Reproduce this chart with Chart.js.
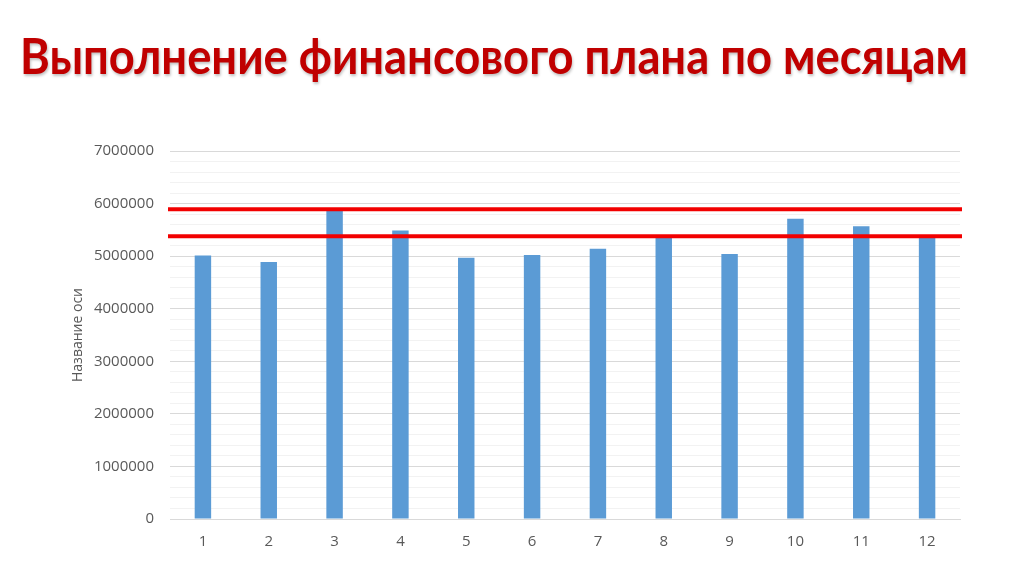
<!DOCTYPE html>
<html lang="ru">
<head>
<meta charset="utf-8">
<title>Выполнение финансового плана по месяцам</title>
<script src="https://cdn.jsdelivr.net/npm/chart.js@4.4.1/dist/chart.umd.min.js"></script>
<style>
  html, body { margin: 0; padding: 0; background: #fff; }
  #wrap { position: relative; width: 1024px; height: 574px; overflow: hidden; }
  #title {
    position: absolute; left: 20px; top: 30px;
    font-family: Lato, "Open Sans", sans-serif; font-weight: bold;
    font-size: 50px; line-height: 1; color: #C00000; white-space: nowrap;
    text-shadow: 1px 2px 3px rgba(0,0,0,0.25);
    transform-origin: left top;
  }
  #chart { position: absolute; left: 0; top: 0; }
</style>
</head>
<body>
<div id="wrap">
  <canvas id="chart" width="1024" height="574"></canvas>
  <div id="title">Выполнение финансового плана по месяцам</div>
</div>
<script>
const months = ['1', '2', '3', '4', '5', '6', '7', '8', '9', '10', '11', '12'];
const planValues = [5010000, 4890000, 5870000, 5490000, 4970000, 5020000, 5140000, 5390000, 5040000, 5710000, 5570000, 5380000];
const limitLines = [5890000, 5380000];
const yTicks = { min: 0, max: 7000000, major: 1000000, minor: 200000 };
const axisTitle = 'Название оси';

// fit the title to the width it has on the slide
const titleEl = document.getElementById('title');
const titleWidth = titleEl.getBoundingClientRect().width;
titleEl.style.transform = 'scaleX(' + (948 / titleWidth) + ')';

// red horizontal limit lines, placed through the y scale
const limitLinesPlugin = {
    id: 'limitLines',
    afterDatasetsDraw(chart) {
        const ctx = chart.ctx;
        const area = chart.chartArea;
        const y = chart.scales.y;
        ctx.save();
        ctx.strokeStyle = '#F20000';
        ctx.lineWidth = 4;
        limitLines.forEach(value => {
            const py = y.getPixelForValue(value);
            ctx.beginPath();
            ctx.moveTo(area.left - 2, py);
            ctx.lineTo(area.right + 2, py);
            ctx.stroke();
        });
        ctx.restore();
    }
};

const tickFont = { family: '"Open Sans", sans-serif', size: 15 };

const ctx = document.getElementById('chart').getContext('2d');
const myChart = new Chart(ctx, {
    type: 'bar',
    data: {
        labels: months,
        datasets: [{
            data: planValues,
            backgroundColor: '#5B9BD5',
            barPercentage: 0.5,
            categoryPercentage: 0.5
        }]
    },
    options: {
        responsive: false,
        animation: false,
        layout: { padding: { top: 151, left: 70, right: 64, bottom: 17 } },
        plugins: {
            legend: { display: false },
            tooltip: { enabled: false }
        },
        scales: {
            x: {
                grid: { display: false },
                border: { color: '#D9D9D9', width: 1 },
                ticks: { color: '#595959', padding: 6, font: tickFont }
            },
            y: {
                min: yTicks.min,
                max: yTicks.max,
                afterFit(scale) { scale.width = 100; },
                border: { display: false },
                grid: {
                    color: c => (c.tick && c.tick.value % yTicks.major === 0) ? '#D9D9D9' : '#F2F2F2',
                    drawTicks: false
                },
                ticks: {
                    stepSize: yTicks.minor,
                    autoSkip: false,
                    padding: 16,
                    color: '#595959',
                    font: tickFont,
                    callback: value => value % yTicks.major === 0 ? String(value) : ''
                },
                title: {
                    display: true,
                    text: axisTitle,
                    color: '#595959',
                    padding: 0,
                    font: { family: '"Open Sans", sans-serif', size: 14 }
                }
            }
        }
    },
    plugins: [limitLinesPlugin]
});
</script>
</body>
</html>
